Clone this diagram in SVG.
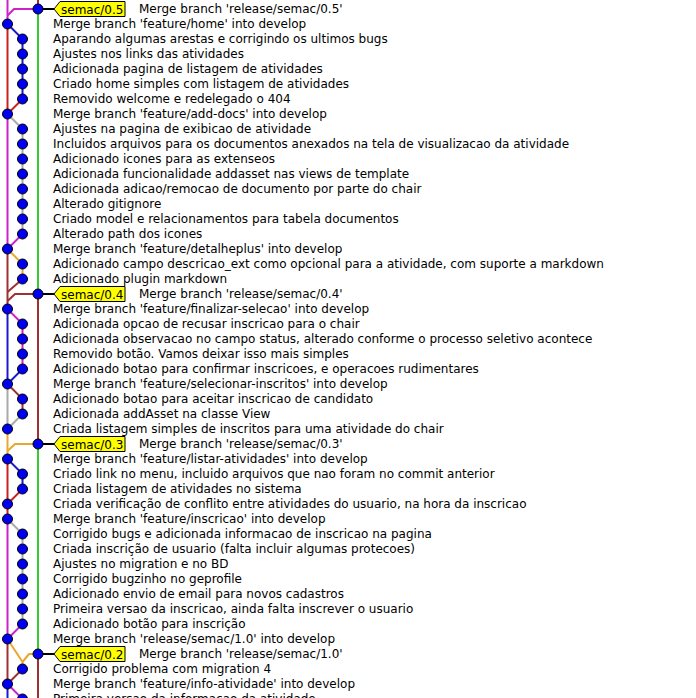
<svg xmlns="http://www.w3.org/2000/svg" width="696" height="698" viewBox="0 0 696 698">
<style>
text{font-family:"DejaVu Sans","Liberation Sans",sans-serif;font-size:12px;fill:#000}
.c{fill:#0000ee;stroke:#000;stroke-width:1}
.l{fill:none;stroke-width:2;stroke-linejoin:round}
.g{stroke:#33cc33}.r{stroke:#cc1f1f}.b{stroke:#1a1acd}.m{stroke:#cc22cc}.y{stroke:#a9a9a9}.w{stroke:#a03030}.o{stroke:#e8a830}.k{stroke:#000}
.tag{fill:#ffff00;stroke:#000;stroke-width:1}
</style>
<rect width="696" height="698" fill="#fff"/>
<g id="connectors">
<path class="l m" d="M7.5 0V24"/>
<path class="l m" d="M38 9H14L7.5 15.5"/>
<path class="l w" d="M38 0V9"/>
<path class="l g" d="M38 9V294"/>
<path class="l r" d="M7.5 24V114"/>
<path class="l b" d="M7.5 24L22.5 39V99"/>
<path class="l r" d="M22.5 99L7.5 114"/>
<path class="l m" d="M7.5 114V249"/>
<path class="l y" d="M7.5 114L22.5 129V234"/>
<path class="l m" d="M22.5 234L7.5 249"/>
<path class="l w" d="M7.5 249V309"/>
<path class="l o" d="M7.5 249L22.5 264V279"/>
<path class="l w" d="M22.5 279L7.5 292"/>
<path class="l w" d="M38 294H15L7.5 301"/>
<path class="l w" d="M38 294V444"/>
<path class="l m" d="M7.5 309L22.5 324V369"/>
<path class="l b" d="M7.5 309V384"/>
<path class="l b" d="M22.5 369L7.5 384"/>
<path class="l y" d="M7.5 384V429"/>
<path class="l w" d="M7.5 384L22.5 399V414"/>
<path class="l y" d="M22.5 414L7.5 429"/>
<path class="l o" d="M7.5 429V459"/>
<path class="l o" d="M38 444H15L7.5 451"/>
<path class="l g" d="M38 444V654"/>
<path class="l r" d="M7.5 459V519"/>
<path class="l b" d="M7.5 459L22.5 474V489"/>
<path class="l r" d="M22.5 489L7.5 504"/>
<path class="l m" d="M7.5 519V639"/>
<path class="l y" d="M7.5 519L22.5 534V624"/>
<path class="l m" d="M22.5 624L7.5 639"/>
<path class="l w" d="M7.5 639V684"/>
<path class="l o" d="M7.5 639L22.5 662V669"/>
<path class="l o" d="M38 654H29L22.5 662"/>
<path class="l w" d="M38 654V698"/>
<path class="l w" d="M22.5 669L7.5 684"/>
<path class="l m" d="M7.5 684L22.5 699"/>
<path class="l b" d="M7.5 684V698"/>
<path class="l k" d="M38 9H54M38 294H54M38 444H54M38 654H54"/>
</g>
<g id="n0"><circle class="c" cx="38" cy="9" r="5"/><polygon class="tag" points="54,9 60,1.5 125,1.5 125,16.5 60,16.5"/><text x="61" y="13.5">semac/0.5</text><text x="139" y="13">Merge branch 'release/semac/0.5'</text></g>
<g id="n1"><circle class="c" cx="7.5" cy="24" r="5"/><text x="53" y="28">Merge branch 'feature/home' into develop</text></g>
<g id="n2"><circle class="c" cx="22.5" cy="39" r="5"/><text x="53" y="43">Aparando algumas arestas e corrigindo os ultimos bugs</text></g>
<g id="n3"><circle class="c" cx="22.5" cy="54" r="5"/><text x="53" y="58">Ajustes nos links das atividades</text></g>
<g id="n4"><circle class="c" cx="22.5" cy="69" r="5"/><text x="53" y="73">Adicionada pagina de listagem de atividades</text></g>
<g id="n5"><circle class="c" cx="22.5" cy="84" r="5"/><text x="53" y="88">Criado home simples com listagem de atividades</text></g>
<g id="n6"><circle class="c" cx="22.5" cy="99" r="5"/><text x="53" y="103">Removido welcome e redelegado o 404</text></g>
<g id="n7"><circle class="c" cx="7.5" cy="114" r="5"/><text x="53" y="118">Merge branch 'feature/add-docs' into develop</text></g>
<g id="n8"><circle class="c" cx="22.5" cy="129" r="5"/><text x="53" y="133">Ajustes na pagina de exibicao de atividade</text></g>
<g id="n9"><circle class="c" cx="22.5" cy="144" r="5"/><text x="53" y="148">Incluidos arquivos para os documentos anexados na tela de visualizacao da atividade</text></g>
<g id="n10"><circle class="c" cx="22.5" cy="159" r="5"/><text x="53" y="163">Adicionado icones para as extenseos</text></g>
<g id="n11"><circle class="c" cx="22.5" cy="174" r="5"/><text x="53" y="178">Adicionada funcionalidade addasset nas views de template</text></g>
<g id="n12"><circle class="c" cx="22.5" cy="189" r="5"/><text x="53" y="193">Adicionada adicao/remocao de documento por parte do chair</text></g>
<g id="n13"><circle class="c" cx="22.5" cy="204" r="5"/><text x="53" y="208">Alterado gitignore</text></g>
<g id="n14"><circle class="c" cx="22.5" cy="219" r="5"/><text x="53" y="223">Criado model e relacionamentos para tabela documentos</text></g>
<g id="n15"><circle class="c" cx="22.5" cy="234" r="5"/><text x="53" y="238">Alterado path dos icones</text></g>
<g id="n16"><circle class="c" cx="7.5" cy="249" r="5"/><text x="53" y="253">Merge branch 'feature/detalheplus' into develop</text></g>
<g id="n17"><circle class="c" cx="22.5" cy="264" r="5"/><text x="53" y="268">Adicionado campo descricao_ext como opcional para a atividade, com suporte a markdown</text></g>
<g id="n18"><circle class="c" cx="22.5" cy="279" r="5"/><text x="53" y="283">Adicionado plugin markdown</text></g>
<g id="n19"><circle class="c" cx="38" cy="294" r="5"/><polygon class="tag" points="54,294 60,286.5 125,286.5 125,301.5 60,301.5"/><text x="61" y="298.5">semac/0.4</text><text x="139" y="298">Merge branch 'release/semac/0.4'</text></g>
<g id="n20"><circle class="c" cx="7.5" cy="309" r="5"/><text x="53" y="313">Merge branch 'feature/finalizar-selecao' into develop</text></g>
<g id="n21"><circle class="c" cx="22.5" cy="324" r="5"/><text x="53" y="328">Adicionada opcao de recusar inscricao para o chair</text></g>
<g id="n22"><circle class="c" cx="22.5" cy="339" r="5"/><text x="53" y="343">Adicionada observacao no campo status, alterado conforme o processo seletivo acontece</text></g>
<g id="n23"><circle class="c" cx="22.5" cy="354" r="5"/><text x="53" y="358">Removido botão. Vamos deixar isso mais simples</text></g>
<g id="n24"><circle class="c" cx="22.5" cy="369" r="5"/><text x="53" y="373">Adicionado botao para confirmar inscricoes, e operacoes rudimentares</text></g>
<g id="n25"><circle class="c" cx="7.5" cy="384" r="5"/><text x="53" y="388">Merge branch 'feature/selecionar-inscritos' into develop</text></g>
<g id="n26"><circle class="c" cx="22.5" cy="399" r="5"/><text x="53" y="403">Adicionado botao para aceitar inscricao de candidato</text></g>
<g id="n27"><circle class="c" cx="22.5" cy="414" r="5"/><text x="53" y="418">Adicionada addAsset na classe View</text></g>
<g id="n28"><circle class="c" cx="7.5" cy="429" r="5"/><text x="53" y="433">Criada listagem simples de inscritos para uma atividade do chair</text></g>
<g id="n29"><circle class="c" cx="38" cy="444" r="5"/><polygon class="tag" points="54,444 60,436.5 125,436.5 125,451.5 60,451.5"/><text x="61" y="448.5">semac/0.3</text><text x="139" y="448">Merge branch 'release/semac/0.3'</text></g>
<g id="n30"><circle class="c" cx="7.5" cy="459" r="5"/><text x="53" y="463">Merge branch 'feature/listar-atividades' into develop</text></g>
<g id="n31"><circle class="c" cx="22.5" cy="474" r="5"/><text x="53" y="478">Criado link no menu, incluido arquivos que nao foram no commit anterior</text></g>
<g id="n32"><circle class="c" cx="22.5" cy="489" r="5"/><text x="53" y="493">Criada listagem de atividades no sistema</text></g>
<g id="n33"><circle class="c" cx="7.5" cy="504" r="5"/><text x="53" y="508">Criada verificação de conflito entre atividades do usuario, na hora da inscricao</text></g>
<g id="n34"><circle class="c" cx="7.5" cy="519" r="5"/><text x="53" y="523">Merge branch 'feature/inscricao' into develop</text></g>
<g id="n35"><circle class="c" cx="22.5" cy="534" r="5"/><text x="53" y="538">Corrigido bugs e adicionada informacao de inscricao na pagina</text></g>
<g id="n36"><circle class="c" cx="22.5" cy="549" r="5"/><text x="53" y="553">Criada inscrição de usuario (falta incluir algumas protecoes)</text></g>
<g id="n37"><circle class="c" cx="22.5" cy="564" r="5"/><text x="53" y="568">Ajustes no migration e no BD</text></g>
<g id="n38"><circle class="c" cx="22.5" cy="579" r="5"/><text x="53" y="583">Corrigido bugzinho no geprofile</text></g>
<g id="n39"><circle class="c" cx="22.5" cy="594" r="5"/><text x="53" y="598">Adicionado envio de email para novos cadastros</text></g>
<g id="n40"><circle class="c" cx="22.5" cy="609" r="5"/><text x="53" y="613">Primeira versao da inscricao, ainda falta inscrever o usuario</text></g>
<g id="n41"><circle class="c" cx="22.5" cy="624" r="5"/><text x="53" y="628">Adicionado botão para inscrição</text></g>
<g id="n42"><circle class="c" cx="7.5" cy="639" r="5"/><text x="53" y="643">Merge branch 'release/semac/1.0' into develop</text></g>
<g id="n43"><circle class="c" cx="38" cy="654" r="5"/><polygon class="tag" points="54,654 60,646.5 125,646.5 125,661.5 60,661.5"/><text x="61" y="658.5">semac/0.2</text><text x="139" y="658">Merge branch 'release/semac/1.0'</text></g>
<g id="n44"><circle class="c" cx="22.5" cy="669" r="5"/><text x="53" y="673">Corrigido problema com migration 4</text></g>
<g id="n45"><circle class="c" cx="7.5" cy="684" r="5"/><text x="53" y="688">Merge branch 'feature/info-atividade' into develop</text></g>
<g id="n46"><circle class="c" cx="22.5" cy="699" r="5"/><text x="53" y="703">Primeira versao da informacao da atividade</text></g>
</svg>
